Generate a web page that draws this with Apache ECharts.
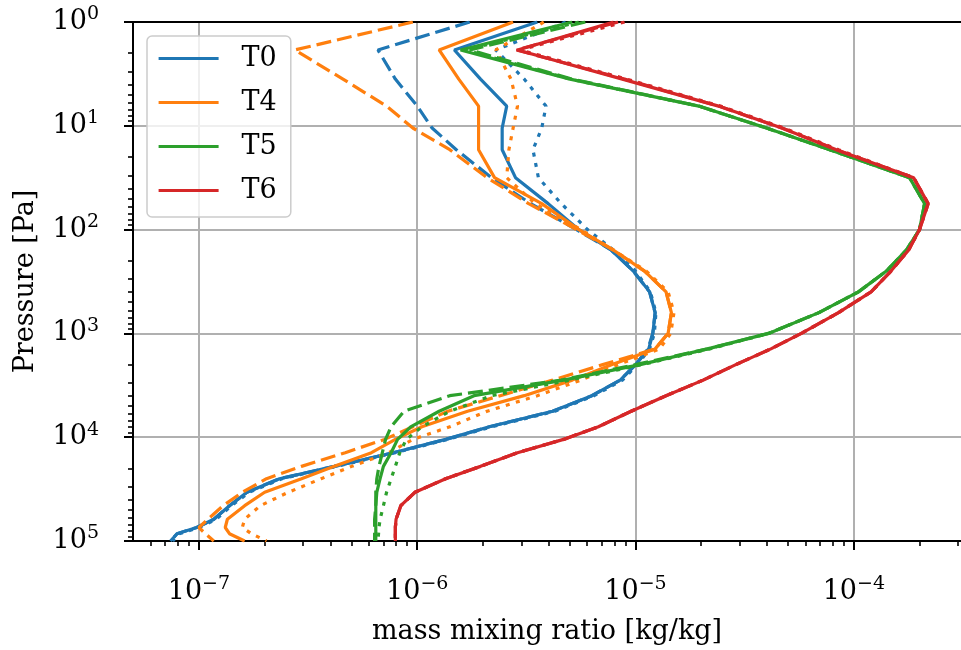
<!DOCTYPE html>
<html><head><meta charset="utf-8">
<script src="https://cdn.jsdelivr.net/npm/echarts@6/dist/echarts.min.js"></script>
<style>html,body{margin:0;padding:0;background:#fff}#c{width:961px;height:650px}</style>
</head><body><div id="c"></div><script>
// pressure levels [Pa]
const PRESSURE_PA = [1, 1.86, 3.55, 6.46, 10.5, 17.0, 31.6, 56.2, 100, 158, 251, 398, 631, 1000, 1410, 2000, 2820, 3980, 5620, 7940, 10500, 14100, 19100, 25100, 33900, 45700, 61700, 74100, 85100, 100000];

// mass mixing ratio [kg/kg]
const T0_SOLID  = [3.55e-6, 1.48e-6, 1.95e-6, 2.57e-6, 2.45e-6, 2.45e-6, 2.82e-6, 3.98e-6, 5.50e-6, 7.76e-6, 9.77e-6, 1.16e-5, 1.23e-5, 1.20e-5, 1.15e-5, 1.00e-5, 8.51e-6, 6.31e-6, 4.17e-6, 2.14e-6, 1.35e-6, 7.76e-7, 4.17e-7, 2.34e-7, 1.66e-7, 1.38e-7, 1.17e-7, 9.77e-8, 7.94e-8, 7.41e-8];
const T0_DASHED = [1.74e-6, 6.61e-7, 7.94e-7, 1.00e-6, 1.17e-6, 1.51e-6, 2.19e-6, 3.31e-6, 5.37e-6, 7.76e-6, 9.77e-6, 1.16e-5, 1.23e-5, 1.20e-5, 1.14e-5, 1.00e-5, 8.51e-6, 6.31e-6, 4.17e-6, 2.14e-6, 1.35e-6, 7.76e-7, 4.17e-7, 2.34e-7, 1.66e-7, 1.38e-7, 1.17e-7, 9.77e-8, 7.94e-8, 7.41e-8];
const T0_DOTTED = [4.79e-6, 2.29e-6, 3.09e-6, 3.89e-6, 3.72e-6, 3.39e-6, 3.59e-6, 4.57e-6, 6.03e-6, 7.94e-6, 1.00e-5, 1.17e-5, 1.24e-5, 1.22e-5, 1.16e-5, 1.02e-5, 8.71e-6, 6.46e-6, 4.27e-6, 2.19e-6, 1.38e-6, 7.94e-7, 4.27e-7, 2.40e-7, 1.70e-7, 1.41e-7, 1.20e-7, 1.00e-7, 8.13e-8, 7.59e-8];

const T4_SOLID  = [2.75e-6, 1.26e-6, 1.55e-6, 1.91e-6, 1.91e-6, 1.91e-6, 2.26e-6, 3.72e-6, 5.50e-6, 7.94e-6, 1.10e-5, 1.38e-5, 1.46e-5, 1.41e-5, 1.23e-5, 7.76e-6, 5.13e-6, 3.09e-6, 1.70e-6, 1.05e-6, 7.94e-7, 6.17e-7, 4.17e-7, 2.95e-7, 2.00e-7, 1.62e-7, 1.35e-7, 1.32e-7, 1.38e-7, 1.62e-7];
const T4_DASHED = [9.55e-7, 2.75e-7, 4.57e-7, 7.24e-7, 9.55e-7, 1.41e-6, 2.09e-6, 3.24e-6, 5.37e-6, 7.94e-6, 1.10e-5, 1.38e-5, 1.46e-5, 1.41e-5, 1.23e-5, 7.08e-6, 4.17e-6, 2.40e-6, 1.38e-6, 9.55e-7, 7.08e-7, 4.68e-7, 2.95e-7, 2.04e-7, 1.58e-7, 1.29e-7, 1.10e-7, 1.00e-7, 1.07e-7, 1.17e-7];
const T4_DOTTED = [3.80e-6, 2.29e-6, 2.69e-6, 2.88e-6, 2.75e-6, 2.63e-6, 2.57e-6, 3.47e-6, 5.62e-6, 7.94e-6, 1.12e-5, 1.41e-5, 1.50e-5, 1.45e-5, 1.29e-5, 8.32e-6, 5.62e-6, 3.55e-6, 2.09e-6, 1.41e-6, 9.55e-7, 7.41e-7, 5.01e-7, 3.63e-7, 2.57e-7, 1.91e-7, 1.62e-7, 1.58e-7, 1.74e-7, 2.04e-7];

const T5_SOLID  = [5.13e-6, 1.58e-6, 5.01e-6, 1.95e-5, 3.98e-5, 7.76e-5, 1.80e-4, 2.11e-4, 2.00e-4, 1.74e-4, 1.41e-4, 1.05e-4, 6.92e-5, 4.07e-5, 2.14e-5, 1.05e-5, 4.68e-6, 1.82e-6, 1.26e-6, 9.33e-7, 8.13e-7, 7.59e-7, 7.00e-7, 6.76e-7, 6.53e-7, 6.46e-7, 6.46e-7, 6.46e-7, 6.46e-7, 6.46e-7];
const T5_DASHED = [5.89e-6, 1.74e-6, 5.13e-6, 1.95e-5, 3.98e-5, 7.76e-5, 1.80e-4, 2.11e-4, 2.00e-4, 1.74e-4, 1.41e-4, 1.05e-4, 6.92e-5, 4.07e-5, 2.14e-5, 1.00e-5, 4.57e-6, 1.41e-6, 8.71e-7, 7.59e-7, 7.16e-7, 6.92e-7, 6.68e-7, 6.53e-7, 6.46e-7, 6.46e-7, 6.38e-7, 6.38e-7, 6.38e-7, 6.38e-7];
const T5_DOTTED = [5.50e-6, 1.66e-6, 5.01e-6, 1.95e-5, 3.98e-5, 7.76e-5, 1.80e-4, 2.11e-4, 2.00e-4, 1.74e-4, 1.41e-4, 1.05e-4, 6.92e-5, 4.07e-5, 2.19e-5, 1.07e-5, 5.01e-6, 2.19e-6, 1.41e-6, 1.05e-6, 8.91e-7, 8.32e-7, 7.94e-7, 7.59e-7, 7.24e-7, 7.00e-7, 6.76e-7, 6.68e-7, 6.65e-7, 6.61e-7];

const T6_SOLID  = [7.94e-6, 2.88e-6, 8.71e-6, 2.40e-5, 4.68e-5, 8.32e-5, 1.88e-4, 2.19e-4, 2.00e-4, 1.78e-4, 1.48e-4, 1.20e-4, 8.51e-5, 5.75e-5, 4.17e-5, 2.88e-5, 2.04e-5, 1.38e-5, 9.55e-6, 6.76e-6, 4.68e-6, 2.88e-6, 1.95e-6, 1.35e-6, 9.77e-7, 8.41e-7, 8.00e-7, 7.94e-7, 7.94e-7, 7.94e-7];
const T6_DASHED = [8.32e-6, 2.85e-6, 8.91e-6, 2.40e-5, 4.68e-5, 8.32e-5, 1.88e-4, 2.19e-4, 2.00e-4, 1.78e-4, 1.48e-4, 1.20e-4, 8.51e-5, 5.75e-5, 4.17e-5, 2.88e-5, 2.04e-5, 1.38e-5, 9.55e-6, 6.76e-6, 4.68e-6, 2.88e-6, 1.95e-6, 1.35e-6, 9.77e-7, 8.41e-7, 8.00e-7, 7.94e-7, 7.94e-7, 7.94e-7];
const T6_DOTTED = [8.91e-6, 2.95e-6, 9.12e-6, 2.45e-5, 4.79e-5, 8.51e-5, 1.88e-4, 2.19e-4, 2.00e-4, 1.78e-4, 1.48e-4, 1.20e-4, 8.51e-5, 5.75e-5, 4.17e-5, 2.88e-5, 2.04e-5, 1.38e-5, 9.55e-6, 6.76e-6, 4.68e-6, 2.88e-6, 1.95e-6, 1.35e-6, 9.77e-7, 8.41e-7, 8.00e-7, 7.94e-7, 7.94e-7, 7.94e-7];

// tick values
const X_MAJOR = [1e-7, 1e-6, 1e-5, 1e-4];
const X_MINOR = [6e-8, 7e-8, 8e-8, 9e-8,
  2e-7, 3e-7, 4e-7, 5e-7, 6e-7, 7e-7, 8e-7, 9e-7,
  2e-6, 3e-6, 4e-6, 5e-6, 6e-6, 7e-6, 8e-6, 9e-6,
  2e-5, 3e-5, 4e-5, 5e-5, 6e-5, 7e-5, 8e-5, 9e-5,
  2e-4, 3e-4];
const Y_MAJOR = [1, 10, 100, 1000, 10000, 100000];
const Y_MINOR = [2, 3, 4, 5, 6, 7, 8, 9,
  20, 30, 40, 50, 60, 70, 80, 90,
  200, 300, 400, 500, 600, 700, 800, 900,
  2000, 3000, 4000, 5000, 6000, 7000, 8000, 9000,
  20000, 30000, 40000, 50000, 60000, 70000, 80000, 90000];

const LEGEND_NAMES = ['T0', 'T4', 'T5', 'T6'];
const COLORS = ['#1f77b4', '#ff7f0e', '#2ca02c', '#d62728'];

const X_MIN = Math.pow(10, -7.302);
const X_MAX = Math.pow(10, -3.509);
const FONT = 'DejaVu Serif';

const groups = [
  [T0_SOLID, T0_DASHED, T0_DOTTED],
  [T4_SOLID, T4_DASHED, T4_DOTTED],
  [T5_SOLID, T5_DASHED, T5_DOTTED],
  [T6_SOLID, T6_DASHED, T6_DOTTED]
];
const STYLES = ['solid', [15, 6], [4, 6.5]];
const STYLE_TAGS = ['', ' dashed', ' dotted'];

const series = [];
groups.forEach((g, gi) => {
  g.forEach((vals, si) => {
    series.push({
      name: LEGEND_NAMES[gi] + STYLE_TAGS[si],
      type: 'line',
      xAxisIndex: 0, yAxisIndex: 0,
      data: PRESSURE_PA.map((p, i) => [vals[i], p]),
      symbol: 'none', showSymbol: false, smooth: false, clip: true,
      lineStyle: { color: COLORS[gi], width: 3.2, type: STYLES[si], cap: 'butt' },
      itemStyle: { color: COLORS[gi] },
      emphasis: { disabled: true },
      z: 3
    });
  });
});

function fmt(v) {
  const e = Math.round(Math.log10(v));
  return '{b|10}{s|' + (e < 0 ? '\u2212' + (-e) : String(e)) + '}';
}
const rich = {
  b: { fontFamily: FONT, fontSize: 27, color: '#000', lineHeight: 34 },
  s: { fontFamily: FONT, fontSize: 19, color: '#000', verticalAlign: 'top', lineHeight: 22 }
};

const chart = echarts.init(document.getElementById('c'), null, { renderer: 'canvas' });
chart.setOption({
  animation: false,
  backgroundColor: '#fff',
  grid: { left: 133, right: 0, top: 22, bottom: 108, show: false },
  legend: {
    data: LEGEND_NAMES,
    orient: 'vertical', left: 147, top: 36,
    itemWidth: 60, itemHeight: 14, itemGap: 17,
    padding: [9, 14, 13, 10],
    backgroundColor: 'rgba(255,255,255,0.8)',
    borderColor: '#cccccc', borderWidth: 1.5, borderRadius: 5,
    itemStyle: { opacity: 0 },
    lineStyle: { width: 3.2 },
    textStyle: { fontFamily: FONT, fontSize: 27, color: '#000', lineHeight: 27, padding: [0, 0, 0, 18] },
    selectedMode: false
  },
  xAxis: [{
    type: 'log', logBase: 10, min: X_MIN, max: X_MAX, position: 'bottom',
    name: 'mass mixing ratio [kg/kg]', nameLocation: 'middle', nameGap: 77,
    nameTextStyle: { fontFamily: FONT, fontSize: 27, color: '#000' },
    axisLine: { show: true, lineStyle: { color: '#000', width: 2 } },
    axisTick: { show: true, inside: false, length: 9, customValues: X_MAJOR, lineStyle: { color: '#000', width: 2 } },
    axisLabel: { show: true, margin: 34, customValues: X_MAJOR, formatter: fmt, rich: rich },
    splitLine: { show: true, lineStyle: { color: '#b0b0b0', width: 2 } },
    minorTick: { show: false }
  }, {
    type: 'log', logBase: 10, min: X_MIN, max: X_MAX, position: 'bottom', gridIndex: 0,
    axisLine: { show: false },
    axisTick: { show: true, inside: false, length: 5, customValues: X_MINOR, lineStyle: { color: '#000', width: 1.6 } },
    axisLabel: { show: false },
    splitLine: { show: false }
  }, {
    type: 'log', logBase: 10, min: X_MIN, max: X_MAX, position: 'top', gridIndex: 0,
    axisLine: { show: true, lineStyle: { color: '#000', width: 2 } },
    axisTick: { show: false },
    axisLabel: { show: false },
    splitLine: { show: false }
  }],
  yAxis: [{
    type: 'log', logBase: 10, min: 1, max: 100000, inverse: true, position: 'left',
    name: 'Pressure [Pa]', nameLocation: 'middle', nameGap: 94, nameRotate: 90,
    nameTextStyle: { fontFamily: FONT, fontSize: 27, color: '#000' },
    axisLine: { show: true, lineStyle: { color: '#000', width: 2 } },
    axisTick: { show: true, inside: false, length: 9, customValues: Y_MAJOR, lineStyle: { color: '#000', width: 2 } },
    axisLabel: { show: true, margin: 34, customValues: Y_MAJOR, formatter: fmt, rich: rich },
    splitLine: { show: true, lineStyle: { color: '#b0b0b0', width: 2 } }
  }, {
    type: 'log', logBase: 10, min: 1, max: 100000, inverse: true, position: 'left', gridIndex: 0,
    axisLine: { show: false },
    axisTick: { show: true, inside: false, length: 5, customValues: Y_MINOR, lineStyle: { color: '#000', width: 1.6 } },
    axisLabel: { show: false },
    splitLine: { show: false }
  }],
  series: series
});
</script></body></html>
